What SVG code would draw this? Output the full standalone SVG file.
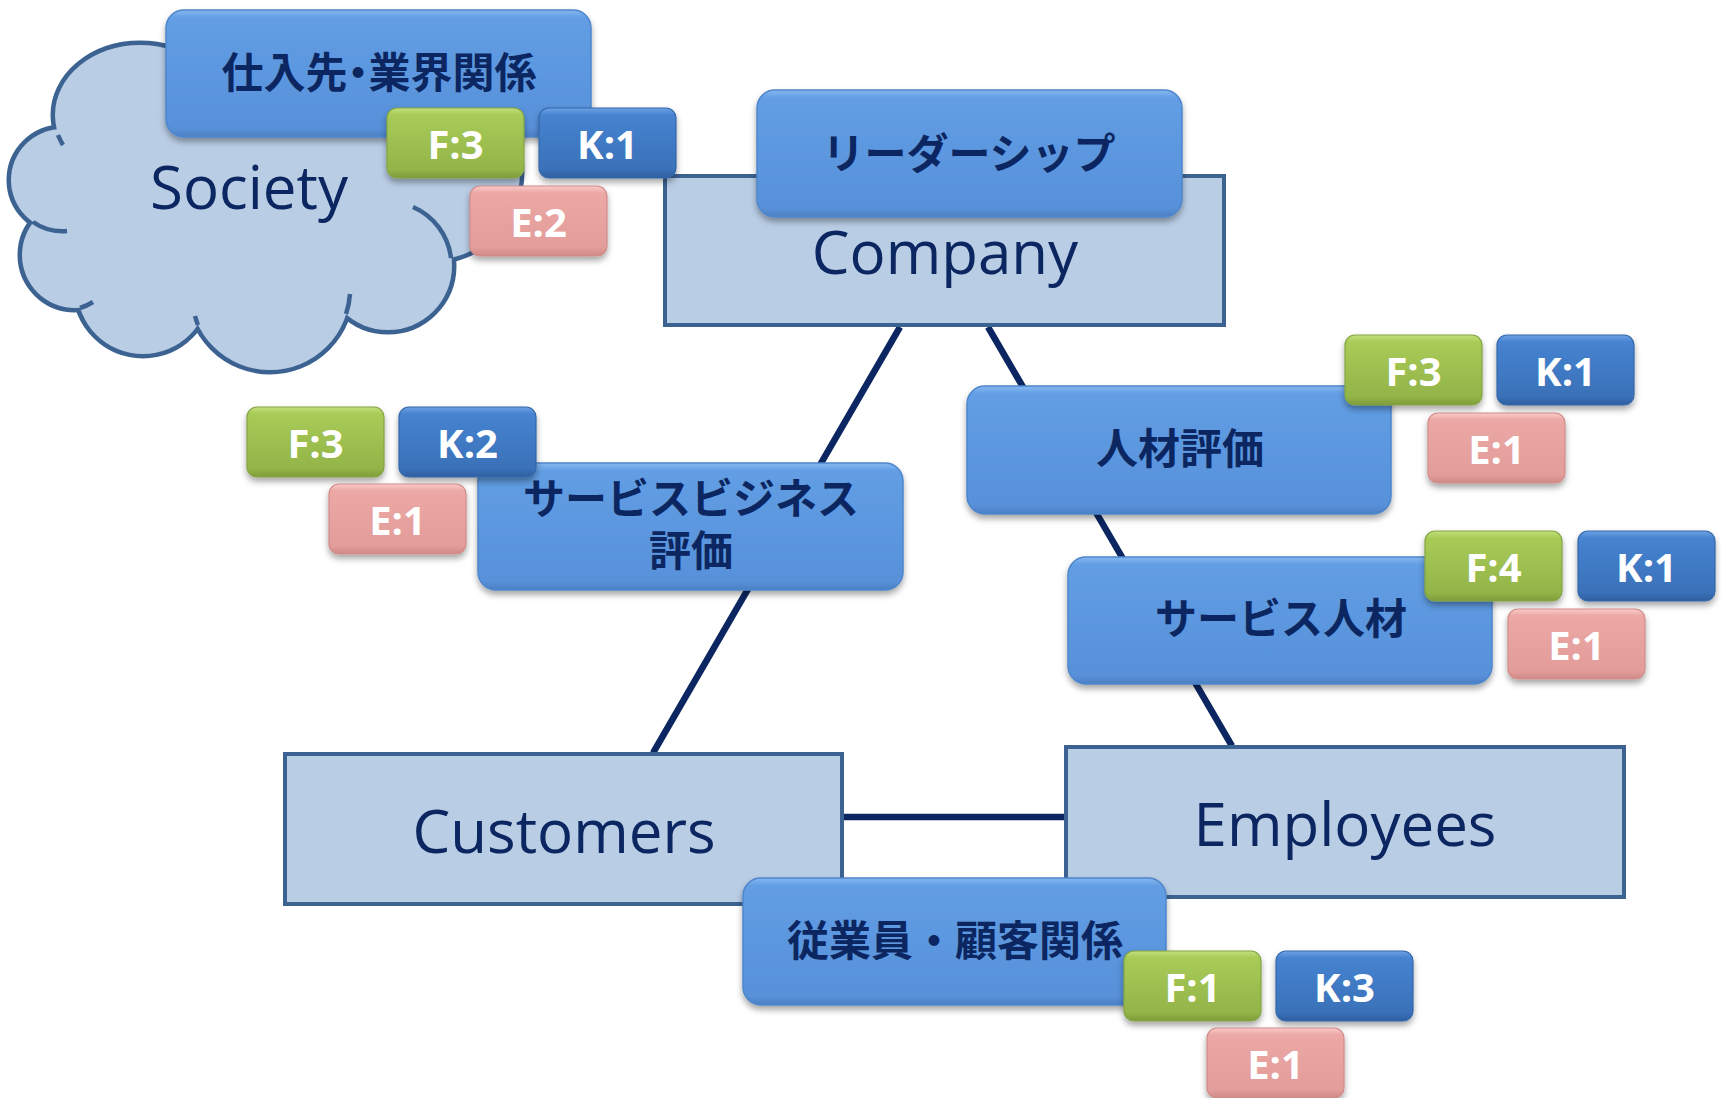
<svg xmlns="http://www.w3.org/2000/svg" xmlns:xlink="http://www.w3.org/1999/xlink" width="1721" height="1098" viewBox="0 0 1721 1098">
  <style>
    .entity { fill: #B9CDE5; stroke: #3C6292; stroke-width: 4; }
    .entity-label { font-family: "Open Sans", "Noto Sans", sans-serif; font-size: 60px; fill: #0B2660; text-anchor: middle; }
    .rel { fill: url(#gBox); stroke: #4E86CB; stroke-width: 1.5; filter: url(#shadow); }
    .rel-label { font-family: "Noto Sans CJK JP", "Noto Sans", sans-serif; font-weight: 700; font-size: 42px; fill: #0B2660; text-anchor: middle; }
    .tag { stroke-width: 1.2; filter: url(#shadow); }
    .tag-f { fill: url(#gF); stroke: #84A443; }
    .tag-k { fill: url(#gK); stroke: #3467AA; }
    .tag-e { fill: url(#gE); stroke: #D08C89; }
    .tag-label { font-family: "Open Sans", "Noto Sans", sans-serif; font-weight: 700; font-size: 40px; fill: #FFFFFF; text-anchor: middle; }
    .link { stroke: #0B2660; stroke-width: 6.5; fill: none; }
    .cloud-line { fill: none; stroke: #3C6292; stroke-width: 4.5; stroke-linecap: butt; }
  </style>
  <defs>
    <filter id="shadow" x="-10%" y="-15%" width="120%" height="145%">
      <feDropShadow dx="0" dy="4" stdDeviation="3" flood-color="#000000" flood-opacity="0.35"/>
    </filter>
    <linearGradient id="gBox" x1="0" y1="0" x2="0" y2="1">
      <stop offset="0" stop-color="#86B8F0"/>
      <stop offset="0.06" stop-color="#639EE4"/>
      <stop offset="0.5" stop-color="#5B97DF"/>
      <stop offset="0.93" stop-color="#5891D9"/>
      <stop offset="1" stop-color="#4B7FC3"/>
    </linearGradient>
    <linearGradient id="gF" x1="0" y1="0" x2="0" y2="1">
      <stop offset="0" stop-color="#C2E07C"/>
      <stop offset="0.1" stop-color="#A8CB57"/>
      <stop offset="0.88" stop-color="#93B449"/>
      <stop offset="1" stop-color="#7E9C3A"/>
    </linearGradient>
    <linearGradient id="gK" x1="0" y1="0" x2="0" y2="1">
      <stop offset="0" stop-color="#6EA3E4"/>
      <stop offset="0.1" stop-color="#4683D0"/>
      <stop offset="0.88" stop-color="#3A71B9"/>
      <stop offset="1" stop-color="#2F5F9F"/>
    </linearGradient>
    <linearGradient id="gE" x1="0" y1="0" x2="0" y2="1">
      <stop offset="0" stop-color="#FACBC8"/>
      <stop offset="0.1" stop-color="#EBA8A5"/>
      <stop offset="0.88" stop-color="#E39D9A"/>
      <stop offset="1" stop-color="#CF8986"/>
    </linearGradient>
    <!-- cloud built from overlapping bumps -->
    <g id="cloudShape">
      <ellipse cx="140" cy="115" rx="85" ry="70"/>
      <circle cx="62" cy="180" r="51"/>
      <circle cx="75" cy="255" r="53"/>
      <circle cx="143" cy="288" r="66"/>
      <circle cx="270" cy="290" r="80"/>
      <circle cx="388" cy="266" r="64"/>
      <circle cx="432" cy="172" r="88"/>
      <circle cx="300" cy="100" r="70"/>
      <polygon points="140,115 62,180 75,255 143,288 270,290 388,266 432,172 300,100"/>
    </g>
    <rect id="tagShape" width="137" height="70" rx="10" ry="10"/>
  </defs>

  <rect width="1721" height="1098" fill="#FFFFFF"/>

  <!-- connectors -->
  <g id="connectors">
    <line class="link" x1="900" y1="327" x2="653" y2="753"/>
    <line class="link" x1="988" y1="327" x2="1232" y2="746"/>
    <line class="link" x1="844" y1="817" x2="1064" y2="817" stroke-width="7"/>
  </g>

  <!-- Society -->
  <g id="society">
    <use xlink:href="#cloudShape" fill="#B9CDE5" stroke="#3C6292" stroke-width="9"/>
    <use xlink:href="#cloudShape" fill="#B9CDE5"/>
    <path class="cloud-line" d="M58,135 A85,70 0 0 0 63,145"/>
    <path class="cloud-line" d="M33,222 A51,51 0 0 0 67,231"/>
    <path class="cloud-line" d="M80,308 A53,53 0 0 0 93,302"/>
    <path class="cloud-line" d="M198,325 A80,80 0 0 1 195,316"/>
    <path class="cloud-line" d="M346,314 A80,80 0 0 0 350,294"/>
    <path class="cloud-line" d="M413,207 A64,64 0 0 1 451,258"/>
    <text class="entity-label" x="249" y="209">Society</text>
  </g>

  <!-- Company -->
  <g id="company">
    <rect class="entity" x="665" y="176" width="559" height="149"/>
    <text class="entity-label" x="945" y="274">Company</text>
  </g>

  <!-- Customers -->
  <g id="customers">
    <rect class="entity" x="285" y="754" width="557" height="150"/>
    <text class="entity-label" x="564" y="853">Customers</text>
  </g>

  <!-- Employees -->
  <g id="employees">
    <rect class="entity" x="1066" y="747" width="558" height="150"/>
    <text class="entity-label" x="1345" y="846">Employees</text>
  </g>

  <!-- relationship nodes -->
  <g id="supplier-relations">
    <rect class="rel" x="166" y="10" width="425" height="127" rx="18" ry="18"/>
    <text class="rel-label" x="379" y="88" style="font-feature-settings: 'palt'">仕入先・業界関係</text>
  </g>

  <g id="leadership">
    <rect class="rel" x="757" y="90" width="425" height="127" rx="18" ry="18"/>
    <text class="rel-label" x="969" y="169">リーダーシップ</text>
  </g>

  <g id="service-business-eval">
    <rect class="rel" x="478" y="463" width="425" height="127" rx="18" ry="18"/>
    <text class="rel-label" x="691" y="514"><tspan x="691" y="514">サービスビジネス</tspan><tspan x="691" y="566">評価</tspan></text>
  </g>

  <g id="hr-eval">
    <rect class="rel" x="967" y="386" width="424" height="128" rx="18" ry="18"/>
    <text class="rel-label" x="1180" y="464">人材評価</text>
  </g>

  <g id="service-staff">
    <rect class="rel" x="1068" y="557" width="424" height="127" rx="18" ry="18"/>
    <text class="rel-label" x="1281" y="634">サービス人材</text>
  </g>

  <g id="staff-customer-relations">
    <rect class="rel" x="743" y="878" width="423" height="127" rx="18" ry="18"/>
    <text class="rel-label" x="955" y="956">従業員・顧客関係</text>
  </g>

  <!-- score tags -->
  <g id="supplier-relations-scores">
    <use xlink:href="#tagShape" class="tag tag-f" x="387" y="108"/>
    <text class="tag-label" x="455.5" y="159">F:3</text>
    <use xlink:href="#tagShape" class="tag tag-k" x="539" y="108"/>
    <text class="tag-label" x="607.5" y="159">K:1</text>
    <use xlink:href="#tagShape" class="tag tag-e" x="470" y="186"/>
    <text class="tag-label" x="538.5" y="237">E:2</text>
  </g>

  <g id="service-business-eval-scores">
    <use xlink:href="#tagShape" class="tag tag-f" x="247" y="407"/>
    <text class="tag-label" x="315.5" y="458">F:3</text>
    <use xlink:href="#tagShape" class="tag tag-k" x="399" y="407"/>
    <text class="tag-label" x="467.5" y="458">K:2</text>
    <use xlink:href="#tagShape" class="tag tag-e" x="329" y="484"/>
    <text class="tag-label" x="397.5" y="535">E:1</text>
  </g>

  <g id="hr-eval-scores">
    <use xlink:href="#tagShape" class="tag tag-f" x="1345" y="335"/>
    <text class="tag-label" x="1413.5" y="386">F:3</text>
    <use xlink:href="#tagShape" class="tag tag-k" x="1497" y="335"/>
    <text class="tag-label" x="1565.5" y="386">K:1</text>
    <use xlink:href="#tagShape" class="tag tag-e" x="1428" y="413"/>
    <text class="tag-label" x="1496.5" y="464">E:1</text>
  </g>

  <g id="service-staff-scores">
    <use xlink:href="#tagShape" class="tag tag-f" x="1425" y="531"/>
    <text class="tag-label" x="1493.5" y="582">F:4</text>
    <use xlink:href="#tagShape" class="tag tag-k" x="1578" y="531"/>
    <text class="tag-label" x="1646.5" y="582">K:1</text>
    <use xlink:href="#tagShape" class="tag tag-e" x="1508" y="609"/>
    <text class="tag-label" x="1576.5" y="660">E:1</text>
  </g>

  <g id="staff-customer-relations-scores">
    <use xlink:href="#tagShape" class="tag tag-f" x="1124" y="951"/>
    <text class="tag-label" x="1192.5" y="1002">F:1</text>
    <use xlink:href="#tagShape" class="tag tag-k" x="1276" y="951"/>
    <text class="tag-label" x="1344.5" y="1002">K:3</text>
    <use xlink:href="#tagShape" class="tag tag-e" x="1207" y="1028"/>
    <text class="tag-label" x="1275.5" y="1079">E:1</text>
  </g>
</svg>
